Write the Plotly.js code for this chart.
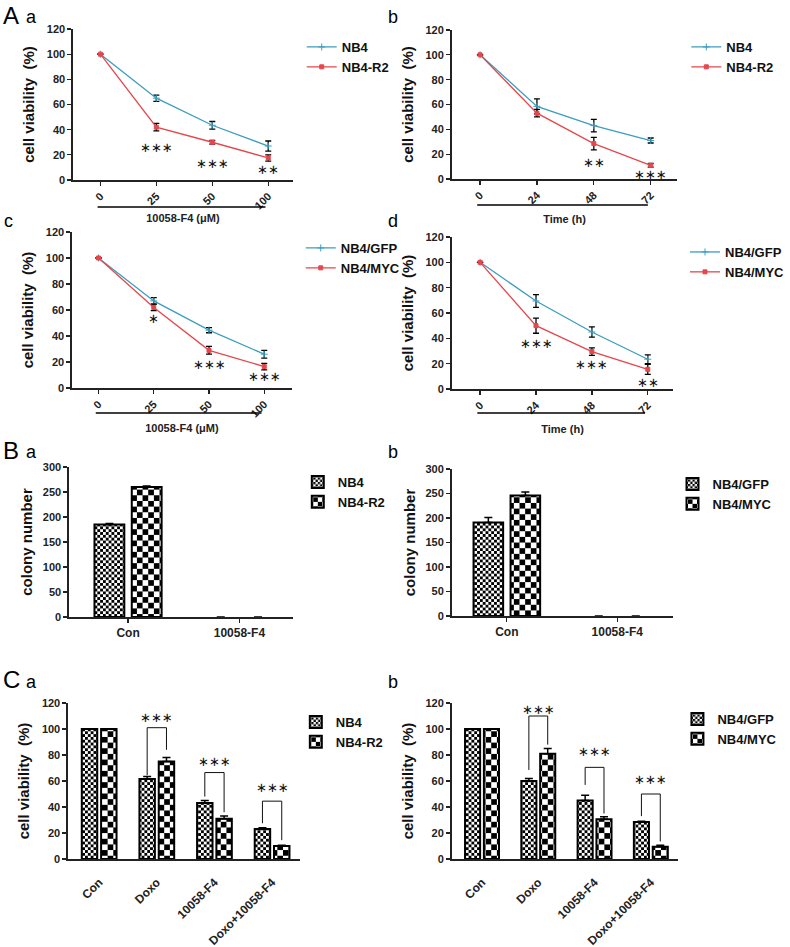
<!DOCTYPE html>
<html><head><meta charset="utf-8">
<script src="https://cdn.plot.ly/plotly-3.0.1.min.js"></script>
<style>html,body{margin:0;padding:0;background:#fff}</style>
</head><body><div id="chart" style="width:790px;height:947px"></div>
<script>
// ---------- data ----------
const doseLabels = ['0', '25', '50', '100'];
const timeLabels = ['0', '24', '48', '72'];

const aaNB4 = [100, 65, 43.5, 27];   const aaNB4Err = [0, 2.5, 3, 4];
const aaR2  = [100, 42, 30, 17.5];   const aaR2Err  = [0, 3, 1.5, 2.5];
const aaSigCat = ['25', '50', '100']; const aaSigY = [26, 13.5, 8]; const aaSigTxt = ['∗∗∗', '∗∗∗', '∗∗'];

const abNB4 = [100, 58.5, 43, 31];   const abNB4Err = [0, 6, 5, 2];
const abR2  = [100, 53, 28.5, 11];   const abR2Err  = [0, 3, 5, 1.5];
const abSigCat = ['48', '72']; const abSigY = [13.5, 4]; const abSigTxt = ['∗∗', '∗∗∗'];

const acGFP = [100, 67, 44.5, 26];   const acGFPErr = [0, 2.5, 2, 3];
const acMYC = [100, 62, 29, 16.5];   const acMYCErr = [0, 2.5, 3, 2.5];
const acSigCat = ['25', '50', '100']; const acSigY = [53.5, 18, 8.5]; const acSigTxt = ['∗', '∗∗∗', '∗∗∗'];

const adGFP = [100, 69.5, 45, 23.5]; const adGFPErr = [0, 5, 4, 3.5];
const adMYC = [100, 50, 29.5, 15.5]; const adMYCErr = [0, 6, 3, 4];
const adSigCat = ['24', '48', '72']; const adSigY = [36, 19.5, 5.5]; const adSigTxt = ['∗∗∗', '∗∗∗', '∗∗'];

const colonyCats = ['Con', '10058-F4'];
const baNB4 = [185, 0]; const baNB4Err = [2, 0];
const baR2  = [260, 0]; const baR2Err  = [2, 0];
const bbGFP = [191, 0]; const bbGFPErr = [10, 0];
const bbMYC = [246, 0]; const bbMYCErr = [7, 0];

const treatCats = ['Con', 'Doxo', '10058-F4', 'Doxo+10058-F4'];
const caNB4 = [100, 61.5, 43, 23];   const caNB4Err = [0, 2, 2, 1];
const caR2  = [100, 75, 31, 10];     const caR2Err  = [0, 3, 2, 0.5];
const cbGFP = [100, 60, 45, 28.5];   const cbGFPErr = [0, 2, 4, 0.5];
const cbMYC = [100, 81, 30.5, 9.5];  const cbMYCErr = [0, 4, 2, 1];
// significance brackets: category index, top, left-leg bottom, right-leg bottom, stars y
const caBrCat = [1, 2, 3]; const caBrTop = [101, 66.5, 44.5]; const caBrLeft = [64.5, 48, 27.5]; const caBrRight = [84, 36, 14.5]; const caStarY = [109, 75, 55];
const cbBrCat = [1, 2, 3]; const cbBrTop = [110, 70.5, 50];   const cbBrLeft = [68.5, 57, 33];  const cbBrRight = [88, 35, 13.5]; const cbStarY = [115, 82.5, 61];

// ---------- style ----------
const W = 790, H = 947;
const TEAL = '#3c9dbf', RED = '#e5474d';
const FONT = 'Liberation Sans, Arial, sans-serif';
const tickFont = {family: FONT, size: 11, color: '#222', weight: 700};
const dx = (a, b) => [a / W, b / W];
const dy = (top, bot) => [1 - bot / H, 1 - top / H];

function errs(arr) { return {type: 'data', array: arr, visible: true, color: '#000', thickness: 1.3, width: 3}; }
function errsUp(arr) { return {type: 'data', symmetric: false, array: arr, arrayminus: arr.map(() => 0), visible: true, color: '#000', thickness: 1.5, width: 4}; }

function lineTrace(name, x, y, e, color, sym, xa, ya, leg) {
  return {type: 'scatter', mode: 'lines+markers', name, x, y, xaxis: xa, yaxis: ya, legend: leg,
    line: {color, width: 1.3}, marker: {color, symbol: sym, size: sym === 'square' ? 4 : 5, line: {color, width: 1}},
    error_y: errs(e)};
}
function barTrace(name, x, y, e, fine, xa, ya, leg) {
  return {type: 'bar', name, x, y, xaxis: xa, yaxis: ya, legend: leg,
    marker: {color: '#fff', line: {color: '#000', width: y.map(v => v > 0 ? 2 : 0)},
      pattern: {shape: 'x', size: fine ? 4 : 8, solidity: 0.5, fgcolor: '#000', bgcolor: '#fff', fillmode: 'replace'}},
    error_y: errsUp(e)};
}

const traces = [
  lineTrace('NB4', doseLabels, aaNB4, aaNB4Err, TEAL, 'cross-thin-open', 'x', 'y', 'legend'),
  lineTrace('NB4-R2', doseLabels, aaR2, aaR2Err, RED, 'square', 'x', 'y', 'legend'),
  lineTrace('NB4', timeLabels, abNB4, abNB4Err, TEAL, 'cross-thin-open', 'x2', 'y2', 'legend2'),
  lineTrace('NB4-R2', timeLabels, abR2, abR2Err, RED, 'square', 'x2', 'y2', 'legend2'),
  lineTrace('NB4/GFP', doseLabels, acGFP, acGFPErr, TEAL, 'cross-thin-open', 'x3', 'y3', 'legend3'),
  lineTrace('NB4/MYC', doseLabels, acMYC, acMYCErr, RED, 'square', 'x3', 'y3', 'legend3'),
  lineTrace('NB4/GFP', timeLabels, adGFP, adGFPErr, TEAL, 'cross-thin-open', 'x4', 'y4', 'legend4'),
  lineTrace('NB4/MYC', timeLabels, adMYC, adMYCErr, RED, 'square', 'x4', 'y4', 'legend4'),
  barTrace('NB4', colonyCats, baNB4, baNB4Err, true, 'x5', 'y5', 'legend5'),
  barTrace('NB4-R2', colonyCats, baR2, baR2Err, false, 'x5', 'y5', 'legend5'),
  barTrace('NB4/GFP', colonyCats, bbGFP, bbGFPErr, true, 'x6', 'y6', 'legend6'),
  barTrace('NB4/MYC', colonyCats, bbMYC, bbMYCErr, false, 'x6', 'y6', 'legend6'),
  barTrace('NB4', treatCats, caNB4, caNB4Err, true, 'x7', 'y7', 'legend7'),
  barTrace('NB4-R2', treatCats, caR2, caR2Err, false, 'x7', 'y7', 'legend7'),
  barTrace('NB4/GFP', treatCats, cbGFP, cbGFPErr, true, 'x8', 'y8', 'legend8'),
  barTrace('NB4/MYC', treatCats, cbMYC, cbMYCErr, false, 'x8', 'y8', 'legend8'),
];

function xAxis(domain, range, anchor, opts) {
  return Object.assign({domain, range, anchor, type: 'category', showline: true, linecolor: '#222', linewidth: 1.6,
    ticks: 'outside', ticklen: 4, tickwidth: 1.3, tickcolor: '#222', showgrid: false, zeroline: false,
    tickfont: tickFont, fixedrange: true}, opts || {});
}
function yAxis(domain, range, dtick, anchor, title, standoff) {
  return {domain, range, dtick, anchor, showline: true, linecolor: '#222', linewidth: 1.6,
    ticks: 'outside', ticklen: 4, tickwidth: 1.3, tickcolor: '#222', showgrid: false, zeroline: false,
    tickfont: tickFont, fixedrange: true,
    title: {text: title, font: {family: FONT, size: 15, color: '#111', weight: 700}, standoff: standoff}};
}
const xTitleFont = {family: FONT, size: 11, color: '#222', weight: 700};
const bigTick = {family: FONT, size: 12, color: '#222', weight: 700};
const VIAB = 'cell viability\u00a0 (%)';

const layout = {
  width: W, height: H, margin: {l: 0, r: 0, t: 0, b: 0}, paper_bgcolor: '#fff', plot_bgcolor: 'rgba(0,0,0,0)',
  barmode: 'group', bargap: 0.33, bargroupgap: 0.2,
  font: {family: FONT},
  xaxis:  xAxis(dx(74, 297), [-0.49, 3.44], 'y', {tickangle: -45, title: {text: '10058-F4 (μM)', font: xTitleFont, standoff: 4}}),
  yaxis:  yAxis(dy(29, 180), [0, 120], 20, 'x', VIAB, 8),
  xaxis2: xAxis(dx(458, 687), [-0.5, 3.47], 'y2', {tickangle: -45, title: {text: 'Time (h)', font: xTitleFont, standoff: 10}}),
  yaxis2: yAxis(dy(30, 179), [0, 120], 20, 'x2', VIAB, 8),
  xaxis3: xAxis(dx(73, 296), [-0.48, 3.5], 'y3', {tickangle: -45, title: {text: '10058-F4 (μM)', font: xTitleFont, standoff: 6}}),
  yaxis3: yAxis(dy(232, 388), [0, 120], 20, 'x3', VIAB, 8),
  xaxis4: xAxis(dx(458, 683), [-0.51, 3.46], 'y4', {tickangle: -45, title: {text: 'Time (h)', font: xTitleFont, standoff: 10}}),
  yaxis4: yAxis(dy(237, 389), [0, 120], 20, 'x4', VIAB, 8),
  xaxis5: xAxis(dx(70, 297), [-0.53, 1.48], 'y5', {tickangle: 0, tickfont: bigTick}),
  yaxis5: yAxis(dy(467, 617), [0, 300], 50, 'x5', 'colony number', 6),
  xaxis6: xAxis(dx(458, 682), [-0.5, 1.5], 'y6', {tickangle: 0, tickfont: bigTick}),
  yaxis6: yAxis(dy(469, 616), [0, 300], 50, 'x6', 'colony number', 6),
  xaxis7: xAxis(dx(69, 304), [-0.54, 3.48], 'y7', {tickangle: -45, ticks: '', tickfont: bigTick, ticklabelstandoff: 10}),
  yaxis7: yAxis(dy(703, 859), [0, 120], 20, 'x7', VIAB, 8),
  xaxis8: xAxis(dx(458, 688), [-0.54, 3.49], 'y8', {tickangle: -45, ticks: '', tickfont: bigTick, ticklabelstandoff: 10}),
  yaxis8: yAxis(dy(703, 859), [0, 120], 20, 'x8', VIAB, 8),
  annotations: [], shapes: []
};

function legendAt(textX, firstY) {
  return {x: (textX - 40) / W, y: 1 - (firstY - 10) / H, xanchor: 'left', yanchor: 'top',
    bgcolor: 'rgba(0,0,0,0)', borderwidth: 0, tracegroupgap: 0, itemwidth: 30,
    font: {family: FONT, size: 13, color: '#111', weight: 700}};
}
layout.legend  = legendAt(346, 42);
layout.legend2 = legendAt(736, 42);
layout.legend3 = legendAt(345, 243);
layout.legend4 = legendAt(735, 247);
layout.legend5 = legendAt(342, 477);
layout.legend6 = legendAt(722, 479);
layout.legend7 = legendAt(340, 717);
layout.legend8 = legendAt(727, 714);

// significance stars on line plots
const STAR_FONT = {family: 'DejaVu Sans', size: 13, color: '#111'};
function stars(labels, cats, ys, txts, xa, ya) {
  cats.forEach((c, i) => layout.annotations.push({x: labels.indexOf(c), y: ys[i], xref: xa, yref: ya, text: txts[i], showarrow: false,
    font: STAR_FONT, xanchor: 'center', yanchor: 'middle'}));
}
stars(doseLabels, aaSigCat, aaSigY, aaSigTxt, 'x', 'y');
stars(timeLabels, abSigCat, abSigY, abSigTxt, 'x2', 'y2');
stars(doseLabels, acSigCat, acSigY, acSigTxt, 'x3', 'y3');
stars(timeLabels, adSigCat, adSigY, adSigTxt, 'x4', 'y4');

// brackets on C panels
const LEG = 0.1675;
function brackets(cats, top, left, right, starY, xa, ya) {
  cats.forEach((c, i) => {
    layout.shapes.push({type: 'path', xref: xa, yref: ya,
      path: `M${c - LEG},${left[i]} L${c - LEG},${top[i]} L${c + LEG},${top[i]} L${c + LEG},${right[i]}`,
      line: {color: '#111', width: 1}});
    layout.annotations.push({x: c, y: starY[i], xref: xa, yref: ya, text: '∗∗∗', showarrow: false,
      font: STAR_FONT, xanchor: 'center', yanchor: 'middle'});
  });
}
brackets(caBrCat, caBrTop, caBrLeft, caBrRight, caStarY, 'x7', 'y7');
brackets(cbBrCat, cbBrTop, cbBrLeft, cbBrRight, cbStarY, 'x8', 'y8');

// underline below the rotated x tick labels (panel A)
[['x', 207], ['x2', 205], ['x3', 413], ['x4', 413]].forEach(([xa, py]) => {
  layout.shapes.push({type: 'line', xref: xa, yref: 'paper', x0: -0.05, x1: 2.95, y0: 1 - py / H, y1: 1 - py / H,
    line: {color: '#000', width: 1.5}});
});

// panel letters
function letter(txt, px, py, size) {
  layout.annotations.push({x: px / W, y: 1 - py / H, xref: 'paper', yref: 'paper', text: txt, showarrow: false,
    xanchor: 'left', yanchor: 'middle', font: {family: FONT, size, color: '#000'}});
}
letter('A', 1, 15, 24); letter('a', 24, 17, 18);
letter('b', 391, 17, 18);
letter('c', 2, 221, 18); letter('d', 391, 221, 18);
letter('B', 1, 450, 24); letter('a', 24, 452, 18);
letter('b', 391, 452, 18);
letter('C', 1, 679, 24); letter('a', 24, 682, 18);
letter('b', 391, 682, 18);

function checker() {
  const ns = 'http://www.w3.org/2000/svg';
  document.querySelectorAll('#chart pattern').forEach(p => {
    const w = parseFloat(p.getAttribute('width')) || 4;
    const h = parseFloat(p.getAttribute('height')) || 4;
    while (p.firstChild) p.removeChild(p.firstChild);
    const mk = (x, y, ww, hh, f) => { const r = document.createElementNS(ns, 'rect');
      r.setAttribute('x', x); r.setAttribute('y', y); r.setAttribute('width', ww); r.setAttribute('height', hh);
      r.setAttribute('fill', f); p.appendChild(r); };
    mk(0, 0, w, h, '#fff'); mk(0, 0, w / 2, h / 2, '#000'); mk(w / 2, h / 2, w / 2, h / 2, '#000');
  });
}

Plotly.newPlot('chart', traces, layout, {staticPlot: true, displayModeBar: false}).then(checker);
</script>
</body></html>
